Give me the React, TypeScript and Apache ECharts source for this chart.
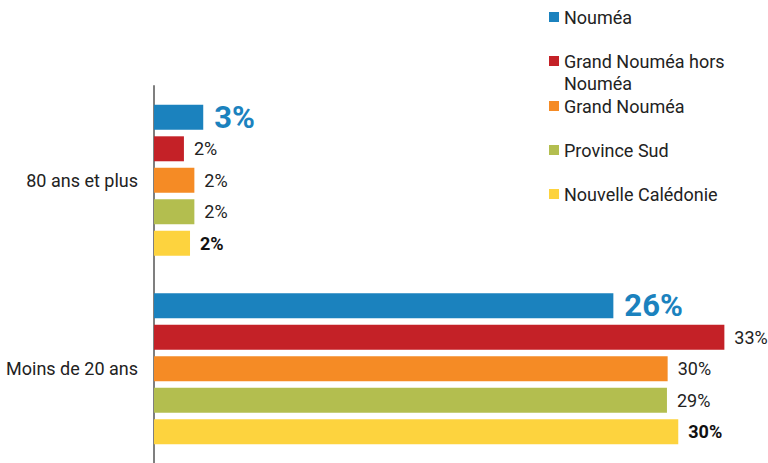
import React, { useEffect, useRef } from "react";
import * as echarts from "echarts";

const categories = ["80 ans et plus", "Moins de 20 ans"];
const seriesNames = [
  "Nouméa",
  "Grand Nouméa hors Nouméa",
  "Grand Nouméa",
  "Province Sud",
  "Nouvelle Calédonie",
];
const noumea = [2.83, 26.4];
const grandNoumeaHors = [1.72, 32.78];
const grandNoumea = [2.32, 29.52];
const provinceSud = [2.32, 29.48];
const nouvelleCaledonie = [2.07, 30.13];
const seriesValues = [noumea, grandNoumeaHors, grandNoumea, provinceSud, nouvelleCaledonie];
const colors = ["#1b82be", "#c42127", "#f58b25", "#b3be4f", "#fdd33e"];

const FONT = "Roboto";

export default function App() {
  const ref = useRef<HTMLDivElement>(null);
  useEffect(() => {
    const chart = echarts.init(ref.current!, null, { renderer: "svg" });
    const legendTops = [6, 52, 95, 139, 183];
    const legends = seriesNames.map((name, i) => {
      const base: any = {
        data: [name],
        orient: "vertical",
        left: 549,
        top: legendTops[i],
        padding: 0,
        icon: "rect",
        itemWidth: 10,
        itemHeight: 10,
        selectedMode: false,
      };
      if (i === 1) {
        base.formatter = () => "{a|Grand Nouméa hors}\n{b|Nouméa}";
        base.textStyle = {
          fontFamily: FONT,
          fontSize: 18,
          color: "#222",
          rich: {
            a: { fontFamily: FONT, fontSize: 18, color: "#222", height: 22, padding: [22, 0, 0, 0] },
            b: { fontFamily: FONT, fontSize: 18, color: "#222", lineHeight: 22 },
          },
        };
      } else {
        base.textStyle = { fontFamily: FONT, fontSize: 18, color: "#222", lineHeight: 22 };
      }
      return base;
    });

    const series = seriesNames.map((name, i) => ({
      name,
      type: "bar",
      data: seriesValues[i],
      barCategoryGap: "20%",
      barGap: "26%",
      itemStyle: { color: colors[i] },
      label: {
        show: true,
        position: "right",
        distance: i === 0 ? 11 : 10,
        fontFamily: FONT,
        formatter: (p: any) => Math.round(p.value) + "%",
        ...(i === 0
          ? { fontSize: 31, fontWeight: "bold", color: colors[0] }
          : i === 4
          ? { fontSize: 18, fontWeight: "bold", color: "#111" }
          : { fontSize: 18, color: "#222" }),
      },
    }));

    chart.setOption({
      animation: false,
      backgroundColor: "#ffffff",
      textStyle: { fontFamily: FONT },
      legend: legends,
      grid: { left: 154, right: 5, top: 86, bottom: -3, containLabel: false },
      xAxis: {
        type: "value",
        min: 0,
        max: 35,
        show: false,
      },
      yAxis: {
        type: "category",
        data: categories,
        inverse: true,
        axisLine: { show: true, lineStyle: { color: "#7f7f7f", width: 2 } },
        axisTick: { show: false },
        splitLine: { show: false },
        axisLabel: { fontFamily: FONT, fontSize: 18, color: "#222", margin: 16 },
      },
      series,
    });
    return () => chart.dispose();
  }, []);
  return (
    <div
      ref={ref}
      style={{ position: "absolute", left: 0, top: 0, width: 768, height: 463 }}
    />
  );
}
